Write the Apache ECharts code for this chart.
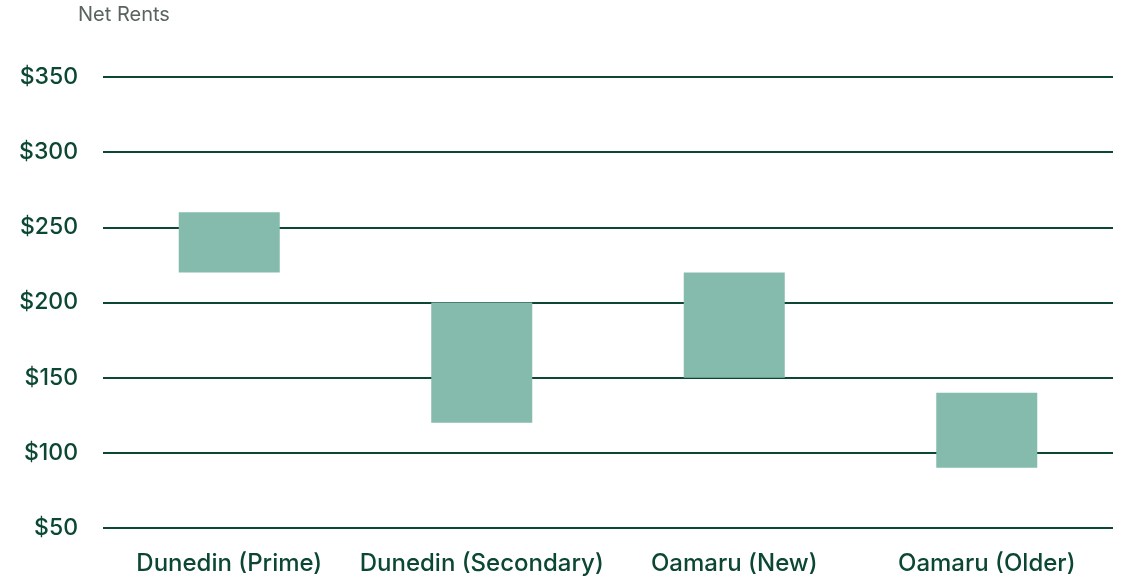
<!DOCTYPE html>
<html>
<head>
<meta charset="utf-8">
<script src="https://cdn.jsdelivr.net/npm/echarts@6/dist/echarts.min.js"></script>
<style>
html, body { margin: 0; padding: 0; background: #fff; }
#container { width: 1124px; height: 578px; }
</style>
</head>
<body>
<div id="container"></div>
<script>
var categories = ['Dunedin (Prime)', 'Dunedin (Secondary)', 'Oamaru (New)', 'Oamaru (Older)'];
var lowRents = [220, 120, 150, 90];
var highRents = [260, 200, 220, 140];
var yTicks = [50, 100, 150, 200, 250, 300, 350];

var dom = document.getElementById('container');
var myChart = echarts.init(dom);

var spans = [];
for (var i = 0; i < categories.length; i++) {
    spans.push(highRents[i] - lowRents[i]);
}

var green = '#0b4733';

var option = {
    animation: false,
    title: {
        text: 'Net Rents',
        left: 78,
        top: 5,
        padding: 0,
        textStyle: { color: '#5a6361', fontSize: 20, fontWeight: 'normal', fontFamily: 'Inter' }
    },
    grid: { left: 103, right: 11, top: 77, bottom: 50, containLabel: false },
    xAxis: {
        type: 'category',
        data: categories,
        axisLine: { show: false },
        axisTick: { show: false },
        axisLabel: { color: green, fontSize: 24, fontFamily: 'Inter', fontWeight: 500, margin: 24, interval: 0 }
    },
    yAxis: {
        type: 'value',
        min: yTicks[0],
        max: yTicks[yTicks.length - 1],
        interval: 50,
        axisLine: { show: false },
        axisTick: { show: false },
        axisLabel: {
            color: green, fontSize: 23, fontFamily: 'Inter', fontWeight: 500, margin: 25,
            padding: [5, 0, 0, 0],
            formatter: function (v) { return '$' + v; }
        },
        splitLine: { lineStyle: { color: green, width: 2 } }
    },
    series: [
        {
            type: 'bar',
            stack: 'range',
            data: lowRents,
            itemStyle: { color: 'transparent' },
            barWidth: '40%',
            silent: true
        },
        {
            type: 'bar',
            stack: 'range',
            data: spans,
            itemStyle: { color: '#84bbad' },
            barWidth: '40%'
        }
    ]
};

myChart.setOption(option);
</script>
</body>
</html>
